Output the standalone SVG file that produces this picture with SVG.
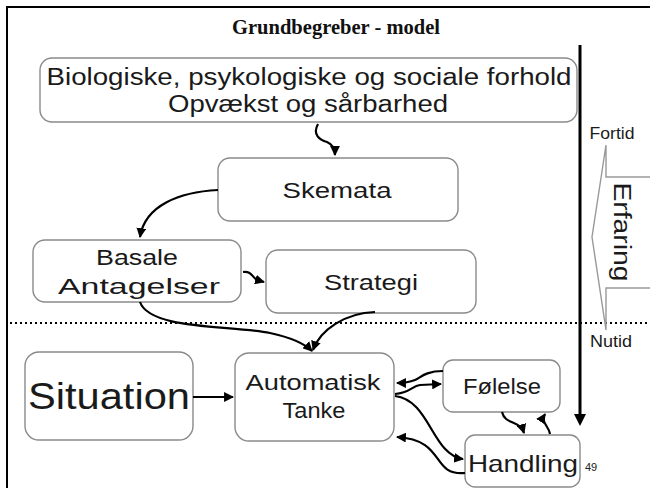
<svg xmlns="http://www.w3.org/2000/svg" width="650" height="488" viewBox="0 0 650 488">
<defs>
<marker id="ah" viewBox="0 0 10 10" refX="9" refY="5" markerWidth="4.5" markerHeight="4.5" orient="auto-start-reverse" markerUnits="strokeWidth">
<path d="M0,0 L10,5 L0,10 z" fill="#000"/>
</marker>
<style>
.box{fill:#fff;stroke:#8a8a8a;stroke-width:1.4}
.t{font-family:"Century Gothic","URW Gothic","Liberation Sans",sans-serif;fill:#1a1a1a;text-anchor:middle}
.c{fill:none;stroke:#000;stroke-width:2.2;marker-end:url(#ah)}
</style>
</defs>
<rect x="0" y="0" width="650" height="488" fill="#fff"/>
<rect x="7" y="7" width="700" height="520" fill="none" stroke="#000" stroke-width="2"/>
<text x="336" y="34" font-family="'Liberation Serif',serif" font-weight="bold" font-size="20" text-anchor="middle" fill="#111" textLength="208" lengthAdjust="spacingAndGlyphs">Grundbegreber - model</text>
<line x1="10" y1="323" x2="650" y2="323" stroke="#000" stroke-width="2" stroke-dasharray="2,3"/>
<g id="timeline">
<line x1="580" y1="45" x2="580" y2="418" stroke="#000" stroke-width="3"/>
<path d="M574,414 L586,414 L580,426 z" fill="#000"/>
<text class="t" x="612" y="139" font-size="17" textLength="45" lengthAdjust="spacingAndGlyphs">Fortid</text>
<text class="t" x="611" y="347" font-size="17" textLength="42" lengthAdjust="spacingAndGlyphs">Nutid</text>
<path d="M650,177 L606,177 L606,145 L592,237 L606,330 L606,288 L650,288" fill="#fff" stroke="#999" stroke-width="1.4"/>
<text class="t" transform="translate(614,232) rotate(90)" font-size="23" textLength="99" lengthAdjust="spacingAndGlyphs">Erfaring</text>
</g>
<g id="bio">
<rect class="box" x="40" y="58" width="537" height="64" rx="12"/>
<text class="t" x="309" y="85" font-size="23" textLength="525" lengthAdjust="spacingAndGlyphs">Biologiske, psykologiske og sociale forhold</text>
<text class="t" x="308" y="112" font-size="23" textLength="280" lengthAdjust="spacingAndGlyphs">Opvækst og sårbarhed</text>
</g>
<g id="skemata">
<rect class="box" x="218" y="158" width="240" height="63" rx="12"/>
<text class="t" x="337" y="198" font-size="22" textLength="109" lengthAdjust="spacingAndGlyphs">Skemata</text>
</g>
<g id="basale">
<rect class="box" x="33" y="240" width="208" height="62" rx="12"/>
<text class="t" x="137" y="265" font-size="22" textLength="82" lengthAdjust="spacingAndGlyphs">Basale</text>
<text class="t" x="139" y="294" font-size="22" textLength="162" lengthAdjust="spacingAndGlyphs">Antagelser</text>
</g>
<g id="strategi">
<rect class="box" x="266" y="250" width="210" height="63" rx="12"/>
<text class="t" x="371" y="290" font-size="22" textLength="94" lengthAdjust="spacingAndGlyphs">Strategi</text>
</g>
<g id="situation">
<rect class="box" x="25" y="352" width="168" height="88" rx="14"/>
<text class="t" x="109" y="409" font-size="36" textLength="162" lengthAdjust="spacingAndGlyphs">Situation</text>
</g>
<g id="tanke">
<rect class="box" x="235" y="353" width="159" height="88" rx="14"/>
<text class="t" x="313" y="390" font-size="22" textLength="135" lengthAdjust="spacingAndGlyphs">Automatisk</text>
<text class="t" x="314" y="418" font-size="22" textLength="63" lengthAdjust="spacingAndGlyphs">Tanke</text>
</g>
<g id="folelse">
<rect class="box" x="443" y="360" width="117" height="52" rx="10"/>
<text class="t" x="502" y="394" font-size="22" textLength="78" lengthAdjust="spacingAndGlyphs">Følelse</text>
</g>
<g id="handling">
<rect class="box" x="465" y="435" width="115" height="52" rx="10"/>
<text class="t" x="523" y="472" font-size="24" textLength="110" lengthAdjust="spacingAndGlyphs">Handling</text>
</g>
<text x="591" y="471" font-family="'Liberation Sans',sans-serif" font-size="11" fill="#222" text-anchor="middle">49</text>
<g id="connectors">
<path class="c" d="M318,124 C312,135 320,140 327,142 C334,145 335,150 335,155"/>
<path class="c" d="M218,190 C180,192 145,205 140,237"/>
<path class="c" d="M243,272 C252,271 252,277 257,280 L264,282"/>
<path class="c" d="M140,302 C150,330 230,325 270,333 C293,338 305,344 312,351"/>
<path class="c" d="M375,312 C345,313 320,330 313,350"/>
<path class="c" d="M193,397 L233,397"/>
<path class="c" d="M443,371 C425,371 420,378 415,380 C410,382 405,383 397,383"/>
<path class="c" d="M395,394 C410,393 412,386 420,385 L441,384"/>
<path class="c" d="M395,396 C430,400 432,455 463,459"/>
<path class="c" d="M465,473 C430,476 447,440 397,437"/>
<path class="c" d="M502,412 C505,425 520,420 524,433"/>
<path class="c" d="M550,434 C549,426 540,422 545,414"/>
</g>
</svg>
